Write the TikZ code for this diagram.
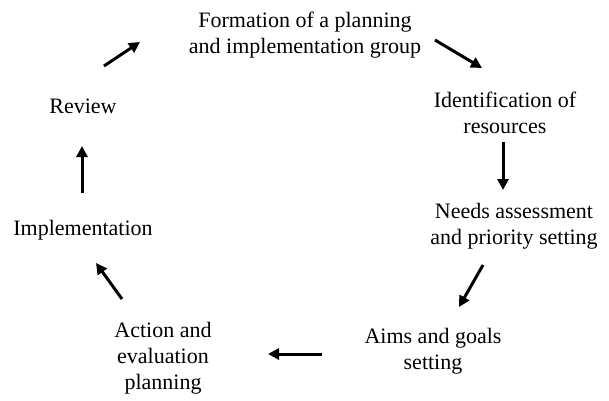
\documentclass[tikz,border=0pt]{standalone}
\usepackage{fontspec}
\setmainfont{Liberation Serif}
\usetikzlibrary{positioning, arrows.meta}

\begin{document}
\begin{tikzpicture}[
    x=1pt, y=-1pt,
    >={Triangle[length=11pt,width=11pt]},
    stage/.style = {align=center, font=\fontsize{22}{26}\selectfont, inner sep=0pt},
    flow/.style  = {->, line width=3pt},
]
\useasboundingbox (0,0) rectangle (609,400);

% stages of the cycle
\node[stage] (formation) at (305, 35)  {Formation of a planning\\and implementation group};
\node[stage] (ident)     at (505, 113) {Identification of\\resources};
\node[stage] (needs)     at (514, 226) {Needs assessment\\and priority setting};
\node[stage] (aims)      at (433, 351) {Aims and goals\\setting};
\node[stage] (action)    at (163, 358) {Action and\\evaluation\\planning};
\node[stage] (impl)      at (83, 230)  {Implementation};
\node[stage] (review)    at (83, 106)  {Review};

% arrow ends
\coordinate (a1) at (435, 40);  \coordinate (b1) at (482, 68);
\coordinate (a2) at (503, 142); \coordinate (b2) at (503, 190);
\coordinate (a3) at (483, 265); \coordinate (b3) at (459, 307);
\coordinate (a4) at (322, 354); \coordinate (b4) at (268, 354);
\coordinate (a5) at (122, 299); \coordinate (b5) at (96, 263);
\coordinate (a6) at (82, 193);  \coordinate (b6) at (82, 146);
\coordinate (a7) at (104, 66);  \coordinate (b7) at (140, 42);

% arrows round the cycle
\draw[flow] (a1) -- (b1);
\draw[flow] (a2) -- (b2);
\draw[flow] (a3) -- (b3);
\draw[flow] (a4) -- (b4);
\draw[flow] (a5) -- (b5);
\draw[flow] (a6) -- (b6);
\draw[flow] (a7) -- (b7);

\end{tikzpicture}
\end{document}
